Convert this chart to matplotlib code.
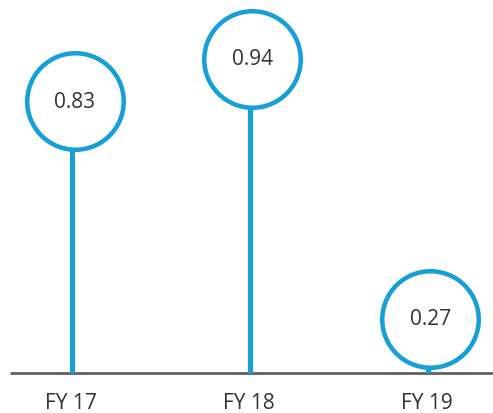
import matplotlib.pyplot as plt

# data
years = ["FY 17", "FY 18", "FY 19"]
values = [0.83, 0.94, 0.27]

BLUE = "#169fd8"
GREY = "#606060"
TEXT = "#333333"

W, H, DPI = 493, 414, 100
PX_PER_UNIT = 388   # vertical pixels per unit value
X_STEP = 178        # pixels between categories
R_OUT = 50.5        # outer radius of circle, px
RING = 4.5          # ring thickness, px

plt.rcParams["font.family"] = ["Open Sans", "DejaVu Sans"]

fig = plt.figure(figsize=(W / DPI, H / DPI), dpi=DPI)
ax = fig.add_axes([0, 0, 1, 1])

# axis limits chosen so baseline sits at y=374px (from top), first item at x≈74px
ax.set_xlim(-74.5 / X_STEP, (W - 74.5) / X_STEP)
ax.set_ylim(-40 / PX_PER_UNIT, (H - 40) / PX_PER_UNIT)
ax.axis("off")

xs = list(range(len(values)))
r_data = R_OUT / PX_PER_UNIT
centers = [v - r_data for v in values]

# baseline
ax.plot([-64.5 / X_STEP, (W - 74.5) / X_STEP], [0, 0], color=GREY, lw=2.0,
        solid_capstyle="butt", zorder=1)

# stems
for x, c in zip(xs, centers):
    ax.plot([x - 0.012, x - 0.012], [0, c - r_data + 0.005], color=BLUE, lw=3.7,
            solid_capstyle="butt", zorder=2)

# circles
d_pts = (2 * R_OUT - RING) * 72 / DPI
ax.scatter(xs, centers, s=d_pts ** 2, facecolor="white", edgecolor=BLUE,
           linewidth=RING * 72 / DPI, zorder=3)

# value labels
for x, c, v in zip(xs, centers, values):
    ax.text(x, c, f"{v:.2f}", ha="center", va="center", fontsize=15,
            color=TEXT, zorder=4)

# category labels
for x, name in zip(xs, years):
    ax.text(x - 0.02, -30 / PX_PER_UNIT, name, ha="center", va="center",
            fontsize=15, color=TEXT)

fig.savefig("out.png", dpi=DPI)
